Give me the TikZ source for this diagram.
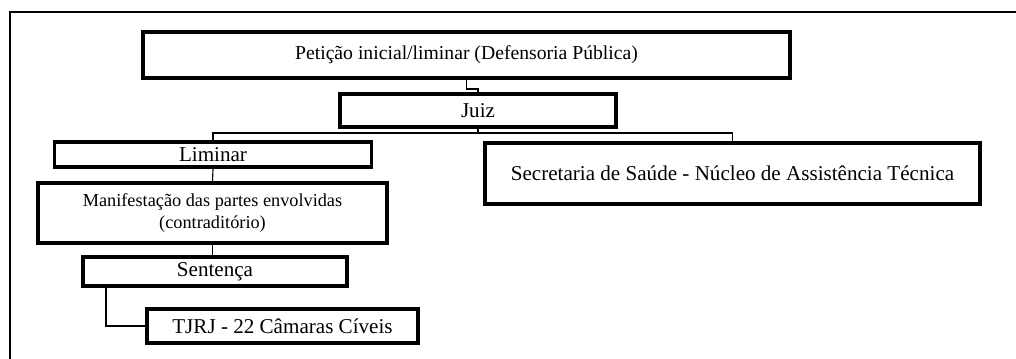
\documentclass[tikz,border=0pt]{standalone}
\usepackage{fontspec}
\setmainfont{Liberation Serif}
\usetikzlibrary{shadows}

\tikzset{
  stagebox/.style={draw, line width=2.8pt, fill=white, align=center, inner sep=1pt,
    drop shadow={shadow xshift=0.8pt, shadow yshift=-0.8pt, fill=black, opacity=1},
    font=\fontsize{15}{17}\selectfont},
  link/.style={line width=0.8pt}
}

\begin{document}
\begin{tikzpicture}[x=0.025cm, y=-0.025cm]
  \useasboundingbox (0,0) rectangle (1016,359);
  % frame
  \draw[line width=1.6pt] (10,359) -- (10,12) -- (1016,12);

  \node[stagebox, font=\fontsize{14}{16}\selectfont, minimum width=647*0.025cm, minimum height=46*0.025cm] (peticao) at (466.5,55) {Petição inicial/liminar (Defensoria Pública)};
  \node[stagebox, minimum width=276*0.025cm, minimum height=33*0.025cm] (juiz) at (478,110.5) {Juiz};
  \node[stagebox, minimum width=317*0.025cm, minimum height=25*0.025cm] (liminar) at (213,154.5) {Liminar};
  \node[stagebox, minimum width=495*0.025cm, minimum height=61*0.025cm] (secretaria) at (732.5,173.5) {Secretaria de Saúde - Núcleo de Assistência Técnica};
  \node[stagebox, font=\fontsize{13}{16}\selectfont, minimum width=349*0.025cm, minimum height=60*0.025cm] (manif) at (212.5,213) {Manifestação das partes envolvidas\\(contraditório)};
  \node[stagebox, minimum width=264*0.025cm, minimum height=29*0.025cm] (sentenca) at (215,271.5) {Sentença};
  \node[stagebox, minimum width=271*0.025cm, minimum height=34*0.025cm] (tjrj) at (282.5,326) {TJRJ - 22 Câmaras Cíveis};

  % connectors
  \draw[link] (peticao.south) -- ++(0,9) -| (juiz.north);
  \draw[link] (juiz.south) -- ++(0,4) -| (liminar.north);
  \draw[link] (juiz.south) -- ++(0,4) -| (secretaria.north);
  \draw[link] (liminar.south) -- (manif.north);
  \draw[link] (manif.south) -- (manif.south |- sentenca.north);
  \draw[link] ([xshift=0.625cm]sentenca.south west) |- (tjrj.west);
\end{tikzpicture}
\end{document}
